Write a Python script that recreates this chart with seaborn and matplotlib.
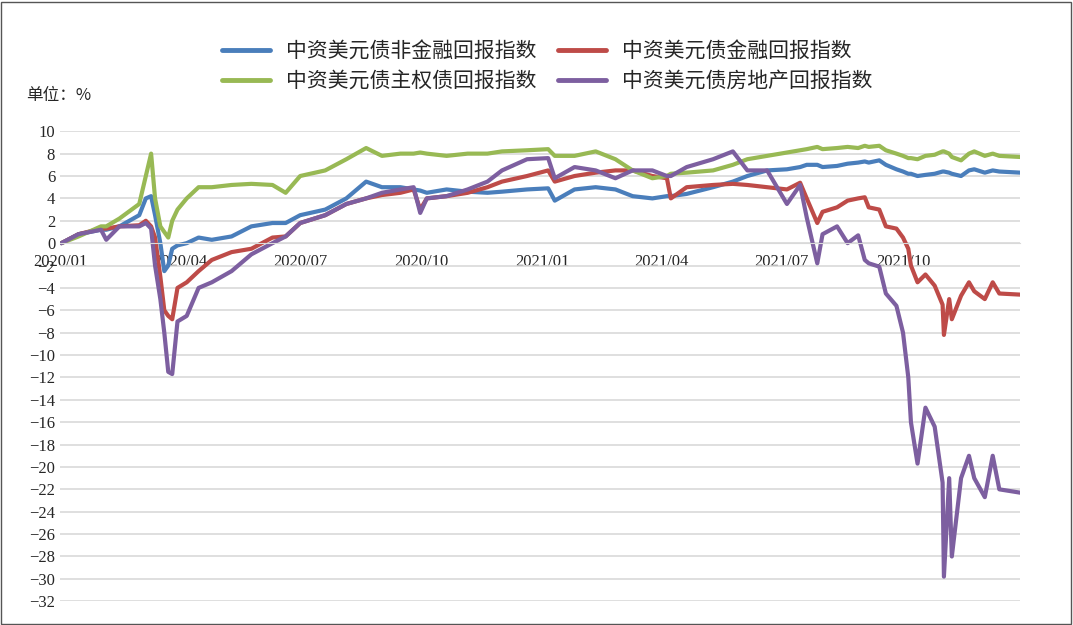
import pandas as pd
import seaborn as sns
import matplotlib.pyplot as plt
from matplotlib.patches import Rectangle

dates = ['2020-01-02','2020-01-15','2020-02-01','2020-02-05','2020-02-15','2020-03-01','2020-03-06',
         '2020-03-10','2020-03-13','2020-03-17','2020-03-20','2020-03-23','2020-03-26','2020-03-30',
         '2020-04-06','2020-04-15','2020-04-25','2020-05-10','2020-05-25','2020-06-10','2020-06-20',
         '2020-07-01','2020-07-20','2020-08-05','2020-08-20','2020-09-01','2020-09-15','2020-09-25',
         '2020-09-30','2020-10-05','2020-10-20','2020-11-05','2020-11-20','2020-12-01','2020-12-20',
         '2021-01-05','2021-01-10','2021-01-25','2021-02-10','2021-02-25','2021-03-10','2021-03-25',
         '2021-04-05','2021-04-08','2021-04-20','2021-05-10','2021-05-25','2021-06-05','2021-06-20',
         '2021-07-05','2021-07-15','2021-07-20','2021-07-28','2021-08-01','2021-08-12','2021-08-20',
         '2021-08-28','2021-09-02','2021-09-05','2021-09-13','2021-09-18','2021-09-26','2021-10-01',
         '2021-10-05','2021-10-07','2021-10-12','2021-10-18','2021-10-25','2021-10-31','2021-11-01',
         '2021-11-05','2021-11-07','2021-11-14','2021-11-20','2021-11-24','2021-12-02','2021-12-08',
         '2021-12-13','2021-12-29']

non_fin = [0,0.8,1.2,1.2,1.5,2.5,4,4.2,2.5,0,-2.5,-2,-0.5,-0.2,0,0.5,0.3,0.6,1.5,1.8,1.8,
           2.5,3.0,4.0,5.5,5,5,4.8,4.7,4.5,4.8,4.6,4.5,4.6,4.8,4.9,3.8,4.8,5.0,4.8,4.2,4.0,
           4.2,4.2,4.4,5,5.5,6.0,6.5,6.6,6.8,7.0,7.0,6.8,6.9,7.1,7.2,7.3,7.2,7.4,7.0,6.6,6.4,
           6.2,6.2,6.0,6.1,6.2,6.4,6.4,6.3,6.2,6.0,6.5,6.6,6.3,6.5,6.4,6.3]
fin = [0,0.8,1.3,1.3,1.5,1.6,2.0,1.5,0.5,-3,-6,-6.5,-6.8,-4,-3.5,-2.5,-1.5,-0.8,-0.5,0.5,0.6,
       1.8,2.5,3.5,4.0,4.3,4.5,4.8,3.0,4,4.2,4.5,5.0,5.5,6.0,6.5,5.5,6.0,6.3,6.5,6.5,6.0,
       5.8,4.0,5.0,5.2,5.3,5.2,5.0,4.8,5.4,4.0,1.8,2.8,3.2,3.8,4.0,4.1,3.2,3.0,1.5,1.3,0.5,
       -0.5,-2.0,-3.5,-2.8,-3.8,-5.5,-8.2,-5.0,-6.8,-4.7,-3.5,-4.3,-5.0,-3.5,-4.5,-4.6]
sov = [0,0.6,1.5,1.5,2.2,3.5,6,8,4,1.5,1,0.5,2,3,4,5,5.0,5.2,5.3,5.2,4.5,
       6,6.5,7.5,8.5,7.8,8.0,8.0,8.1,8.0,7.8,8.0,8.0,8.2,8.3,8.4,7.8,7.8,8.2,7.5,6.5,5.8,
       6.0,6.2,6.3,6.5,7.0,7.5,7.8,8.1,8.3,8.4,8.6,8.4,8.5,8.6,8.5,8.7,8.6,8.7,8.3,8.0,7.8,
       7.6,7.6,7.5,7.8,7.9,8.2,8.2,8.0,7.7,7.4,8.0,8.2,7.8,8.0,7.8,7.7]
prop = [0,0.8,1.2,0.3,1.5,1.5,1.8,1.3,-2,-5,-8,-11.5,-11.7,-7,-6.5,-4,-3.5,-2.5,-1,0,0.6,
        1.8,2.5,3.5,4.0,4.5,4.8,5.0,2.7,4.0,4.2,4.8,5.5,6.5,7.5,7.6,5.8,6.8,6.5,5.8,6.5,6.5,
        6.0,6.0,6.8,7.5,8.2,6.5,6.5,3.5,5.2,2.3,-1.8,0.8,1.5,0.0,0.7,-1.5,-1.8,-2.1,-4.5,-5.6,-8.0,
        -12,-16,-19.7,-14.7,-16.4,-21.4,-29.8,-21,-28,-21,-19,-21,-22.7,-19,-22.0,-22.3]

names = ['中资美元债非金融回报指数','中资美元债金融回报指数','中资美元债主权债回报指数','中资美元债房地产回报指数']
colors = ['#4a7ebb', '#be4b48', '#98b954', '#7d5fa0']

df = pd.DataFrame({'date': pd.to_datetime(dates), names[0]: non_fin, names[1]: fin,
                   names[2]: sov, names[3]: prop})
long = df.melt(id_vars='date', var_name='指数', value_name='回报')

sns.set_style('white')
plt.rcParams['font.family'] = ['Noto Sans CJK SC', 'DejaVu Sans']

fig = plt.figure(figsize=(10.73, 6.25), dpi=100)
ax = fig.add_axes([0.056, 0.038, 0.895, 0.752])
sns.lineplot(data=long, x='date', y='回报', hue='指数', hue_order=names, palette=colors,
             linewidth=3, ax=ax, legend=False)

ax.set_ylim(-32, 10)
ax.set_yticks(range(-32, 11, 2))
ax.set_xlim(pd.Timestamp('2020-01-01'), pd.Timestamp('2021-12-29'))
ticks = pd.to_datetime(['2020-01-01','2020-04-01','2020-07-01','2020-10-01',
                        '2021-01-01','2021-04-01','2021-07-01','2021-10-01'])
ax.set_xticks(ticks)
ax.set_xticklabels([t.strftime('%Y/%m') for t in ticks])
ax.yaxis.grid(True, color='#d9d9d9', linewidth=1.2)
ax.set_axisbelow(True)
for s in ['top', 'right', 'left']:
    ax.spines[s].set_visible(False)
ax.spines['bottom'].set_position(('data', 0))
ax.spines['bottom'].set_color('#d9d9d9')
ax.tick_params(length=0)
ax.tick_params(axis='x', pad=8)
for lab in ax.get_xticklabels() + ax.get_yticklabels():
    lab.set_family('Liberation Serif')
    lab.set_fontsize(12)
ax.set_xlabel('')
ax.set_ylabel('')

order = [0, 2, 1, 3]
handles = [plt.Line2D([], [], color=colors[i], linewidth=3.5) for i in order]
fig.legend(handles, [names[i] for i in order], loc='upper center', bbox_to_anchor=(0.51, 0.965),
           ncol=2, frameon=False, fontsize=15, handlelength=2.3, columnspacing=1.0,
           labelspacing=0.35)
fig.text(0.024, 0.84, '单位：%', fontsize=12)
fig.patches.append(Rectangle((0.001, 0.002), 0.997, 0.995, transform=fig.transFigure,
                             fill=False, edgecolor='#555555', linewidth=1))

fig.savefig('out.png', dpi=100)
